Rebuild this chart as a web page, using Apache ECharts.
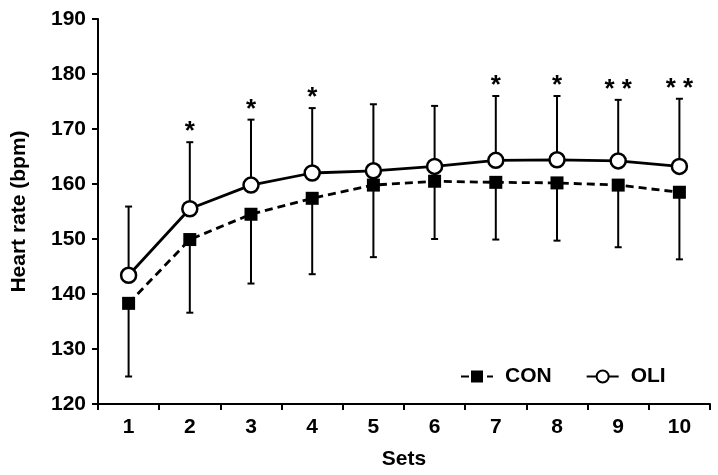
<!DOCTYPE html>
<html>
<head>
<meta charset="utf-8">
<script src="https://cdn.jsdelivr.net/npm/echarts@6/dist/echarts.min.js"></script>
<style>
html,body{margin:0;padding:0;background:#fff;}
#main{width:718px;height:475px;}
</style>
</head>
<body>
<div id="main"></div>
<script>
const sets = ['1','2','3','4','5','6','7','8','9','10'];
const conMean = [138.3, 149.9, 154.5, 157.4, 159.8, 160.5, 160.3, 160.2, 159.8, 158.5];
const conLower = [125.0, 136.6, 141.9, 143.6, 146.7, 150.0, 149.9, 149.7, 148.5, 146.3];
const oliMean = [143.4, 155.5, 159.8, 162.0, 162.4, 163.2, 164.3, 164.4, 164.2, 163.2];
const oliUpper = [155.9, 167.6, 171.7, 173.8, 174.5, 174.2, 176.0, 176.0, 175.3, 175.5];
const stars = ['', '*', '*', '*', '', '', '*', '*', '* *', '* *'];
const yTicks = [120, 130, 140, 150, 160, 170, 180, 190];

const FONT = '"Liberation Sans", Arial, sans-serif';

function errRender(params, api) {
  const p1 = api.coord([api.value(0), api.value(1)]);
  const p2 = api.coord([api.value(0), api.value(2)]);
  const cap = 3.5;
  return {
    type: 'group',
    children: [
      {type: 'line', shape: {x1: p1[0], y1: p1[1], x2: p2[0], y2: p2[1]}, style: {stroke: '#000', lineWidth: 2}},
      {type: 'line', shape: {x1: p2[0] - cap, y1: p2[1], x2: p2[0] + cap, y2: p2[1]}, style: {stroke: '#000', lineWidth: 2}}
    ]
  };
}

const chart = echarts.init(document.getElementById('main'));
chart.setOption({
  animation: false,
  backgroundColor: '#fff',
  grid: {left: 98, right: 8, top: 19, bottom: 70},
  legend: {
    data: ['CON', 'OLI'],
    left: 455, top: 361,
    itemWidth: 32, itemHeight: 15, itemGap: 34,
    textStyle: {fontFamily: FONT, fontWeight: 'bold', fontSize: 21, color: '#000', padding: [0, 0, 0, 7]}
  },
  xAxis: {
    type: 'category',
    data: sets,
    boundaryGap: true,
    name: 'Sets', nameLocation: 'middle', nameGap: 45,
    nameTextStyle: {fontFamily: FONT, fontWeight: 'bold', fontSize: 21, color: '#000'},
    axisLine: {lineStyle: {color: '#000', width: 2}},
    axisTick: {show: true, alignWithLabel: false, length: 6, lineStyle: {color: '#000', width: 2}},
    axisLabel: {fontFamily: FONT, fontWeight: 'bold', fontSize: 21, color: '#000', margin: 13},
    splitLine: {show: false}
  },
  yAxis: {
    type: 'value',
    min: yTicks[0], max: yTicks[yTicks.length - 1], interval: 10,
    name: 'Heart rate (bpm)', nameLocation: 'middle', nameGap: 68,
    nameTextStyle: {fontFamily: FONT, fontWeight: 'bold', fontSize: 21, color: '#000'},
    axisLine: {show: true, lineStyle: {color: '#000', width: 2}},
    axisTick: {show: true, length: 6, lineStyle: {color: '#000', width: 2}},
    axisLabel: {fontFamily: FONT, fontWeight: 'bold', fontSize: 21, color: '#000', margin: 12},
    splitLine: {show: false}
  },
  series: [
    {
      type: 'custom', name: 'CON SD', z: 1,
      renderItem: errRender,
      data: conMean.map((v, i) => [i, v, conLower[i]])
    },
    {
      type: 'custom', name: 'OLI SD', z: 1,
      renderItem: errRender,
      data: oliMean.map((v, i) => [i, v, oliUpper[i]])
    },
    {
      type: 'line', name: 'CON', z: 3,
      data: conMean,
      symbol: 'rect', symbolSize: 13,
      itemStyle: {color: '#000'},
      lineStyle: {color: '#000', width: 2.8, type: [8, 5]}
    },
    {
      type: 'line', name: 'OLI', z: 4,
      data: oliMean,
      symbol: 'circle', symbolSize: 15,
      itemStyle: {color: '#fff', borderColor: '#000', borderWidth: 2.5},
      lineStyle: {color: '#000', width: 2.8}
    },
    {
      type: 'custom', name: 'sig', z: 5,
      renderItem: function (params, api) {
        const p = api.coord([api.value(0), api.value(1)]);
        return {
          type: 'text', x: p[0], y: p[1] - 10,
          style: {text: stars[params.dataIndex], fontFamily: FONT, fontWeight: 'bold', fontSize: 26, fill: '#000', align: 'center', verticalAlign: 'middle'}
        };
      },
      data: oliUpper.map((v, i) => [i, v])
    }
  ]
});
</script>
</body>
</html>
